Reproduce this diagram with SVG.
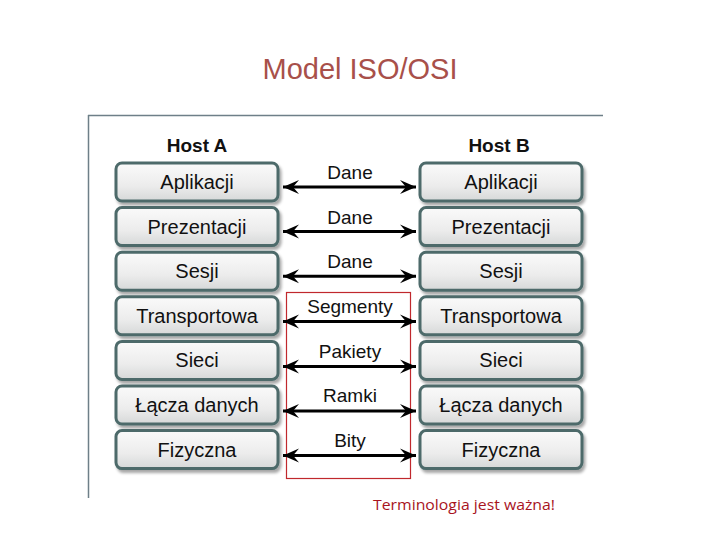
<svg xmlns="http://www.w3.org/2000/svg" width="720" height="540" viewBox="0 0 720 540">
<defs>
<linearGradient id="bg" x1="0" y1="0" x2="0" y2="1">
<stop offset="0" stop-color="#fafafa"/>
<stop offset="0.6" stop-color="#ececec"/>
<stop offset="1" stop-color="#d6d8d8"/>
</linearGradient>
<filter id="sh" x="-10%" y="-20%" width="125%" height="160%">
<feGaussianBlur in="SourceAlpha" stdDeviation="1.5"/>
<feOffset dx="2" dy="3" result="b"/>
<feComponentTransfer><feFuncA type="linear" slope="0.35"/></feComponentTransfer>
<feMerge><feMergeNode/><feMergeNode in="SourceGraphic"/></feMerge>
</filter>
<marker id="ah" markerWidth="18" markerHeight="16" refX="17" refY="8" orient="auto-start-reverse" markerUnits="userSpaceOnUse">
<path d="M17,8 L1,1 L7,8 L1,15 Z" fill="#000"/>
</marker>
</defs>
<style>
.box{fill:url(#bg);stroke:#4d6b6b;stroke-width:3;filter:url(#sh)}
.lbl{font-family:"Liberation Sans",Arial,sans-serif;font-size:20px;fill:#111;text-anchor:middle}
.host{font-family:"Liberation Sans",Arial,sans-serif;font-size:19px;font-weight:bold;fill:#111;text-anchor:middle}
.pdu{font-family:"Liberation Sans",Arial,sans-serif;font-size:19px;fill:#111;text-anchor:middle}
.arr{stroke:#000;stroke-width:3;fill:none;marker-start:url(#ah);marker-end:url(#ah)}
</style>
<rect width="720" height="540" fill="#fff"/>
<text x="360" y="79" font-family="'Liberation Sans',Arial,sans-serif" font-size="29" fill="#a8504a" text-anchor="middle">Model ISO/OSI</text>
<g id="frame">
<line x1="88" y1="115.5" x2="603" y2="115.5" stroke="#6e7f88" stroke-width="1.5"/>
<line x1="88.5" y1="115" x2="88.5" y2="498" stroke="#6e7f88" stroke-width="1.5"/>
</g>
<text class="host" x="197" y="152">Host A</text>
<text class="host" x="499" y="152">Host B</text>
<g id="hostA">
<g id="a1"><rect class="box" x="116" y="163" width="162" height="38" rx="6"/><text class="lbl" x="197" y="189">Aplikacji</text></g>
<g id="a2"><rect class="box" x="116" y="207.6" width="162" height="38" rx="6"/><text class="lbl" x="197" y="233.6">Prezentacji</text></g>
<g id="a3"><rect class="box" x="116" y="252.2" width="162" height="38" rx="6"/><text class="lbl" x="197" y="278.2">Sesji</text></g>
<g id="a4"><rect class="box" x="116" y="296.8" width="162" height="38" rx="6"/><text class="lbl" x="197" y="322.8">Transportowa</text></g>
<g id="a5"><rect class="box" x="116" y="341.4" width="162" height="38" rx="6"/><text class="lbl" x="197" y="367.4">Sieci</text></g>
<g id="a6"><rect class="box" x="116" y="386" width="162" height="38" rx="6"/><text class="lbl" x="197" y="412">Łącza danych</text></g>
<g id="a7"><rect class="box" x="116" y="430.6" width="162" height="38" rx="6"/><text class="lbl" x="197" y="456.6">Fizyczna</text></g>
</g>
<g id="hostB">
<g id="b1"><rect class="box" x="420" y="163" width="162" height="38" rx="6"/><text class="lbl" x="501" y="189">Aplikacji</text></g>
<g id="b2"><rect class="box" x="420" y="207.6" width="162" height="38" rx="6"/><text class="lbl" x="501" y="233.6">Prezentacji</text></g>
<g id="b3"><rect class="box" x="420" y="252.2" width="162" height="38" rx="6"/><text class="lbl" x="501" y="278.2">Sesji</text></g>
<g id="b4"><rect class="box" x="420" y="296.8" width="162" height="38" rx="6"/><text class="lbl" x="501" y="322.8">Transportowa</text></g>
<g id="b5"><rect class="box" x="420" y="341.4" width="162" height="38" rx="6"/><text class="lbl" x="501" y="367.4">Sieci</text></g>
<g id="b6"><rect class="box" x="420" y="386" width="162" height="38" rx="6"/><text class="lbl" x="501" y="412">Łącza danych</text></g>
<g id="b7"><rect class="box" x="420" y="430.6" width="162" height="38" rx="6"/><text class="lbl" x="501" y="456.6">Fizyczna</text></g>
</g>
<rect id="highlight" x="286.5" y="292.5" width="124" height="186" fill="none" stroke="#c0282d" stroke-width="1.2"/>
<g id="connectors">
<line class="arr" x1="283" y1="187" x2="416" y2="187"/>
<line class="arr" x1="283" y1="231.6" x2="416" y2="231.6"/>
<line class="arr" x1="283" y1="276.2" x2="416" y2="276.2"/>
<line class="arr" x1="283" y1="321.5" x2="416" y2="321.5"/>
<line class="arr" x1="283" y1="366.5" x2="416" y2="366.5"/>
<line class="arr" x1="283" y1="411" x2="416" y2="411"/>
<line class="arr" x1="283" y1="455.6" x2="416" y2="455.6"/>
<text class="pdu" x="350" y="179">Dane</text>
<text class="pdu" x="350" y="223.6">Dane</text>
<text class="pdu" x="350" y="268.2">Dane</text>
<text class="pdu" x="350" y="313">Segmenty</text>
<text class="pdu" x="350" y="358">Pakiety</text>
<text class="pdu" x="350" y="402">Ramki</text>
<text class="pdu" x="350" y="447">Bity</text>
</g>
<text x="373" y="510" font-family="'Open Sans','Liberation Sans',sans-serif" font-size="14.5" fill="#a8141e" textLength="182" lengthAdjust="spacingAndGlyphs">Terminologia jest ważna!</text>
</svg>
